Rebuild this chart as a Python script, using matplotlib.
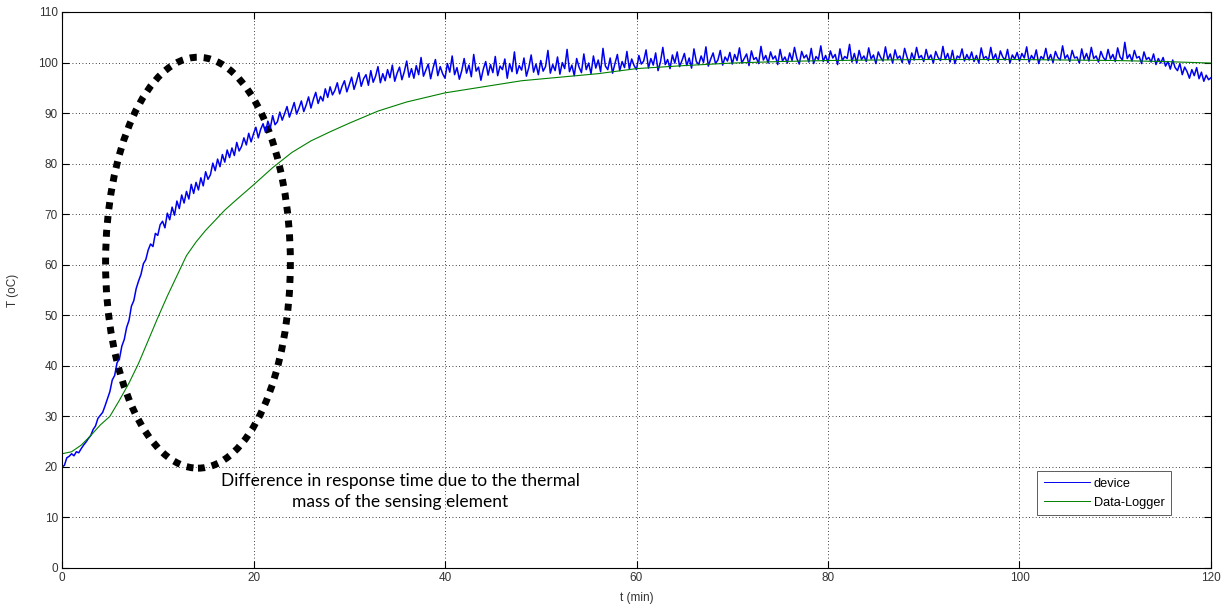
import numpy as np
import matplotlib
matplotlib.use("Agg")
import matplotlib.pyplot as plt
from matplotlib.patches import Ellipse

# device readings, one every 0.25 min
device_t = np.arange(0, 120.25, 0.25)
device_T = [
    20.0, 20.3, 21.8, 22.1, 22.6, 22.2, 23.0, 22.8, 23.6, 24.3,
    24.9, 25.6, 26.2, 27.4, 28.1, 29.6, 30.2, 30.8, 32.1, 33.5,
    34.9, 37.2, 38.1, 40.6, 41.4, 43.9, 45.2, 47.6, 49.0, 51.8,
    52.9, 55.3, 56.8, 58.1, 60.2, 61.0, 62.9, 64.1, 63.6, 66.2,
    65.8, 67.9, 68.6, 67.3, 70.2, 68.9, 71.4, 69.8, 72.6, 71.1,
    73.8, 72.2, 74.5, 73.0, 75.9, 74.1, 76.3, 74.8, 77.2, 75.6,
    78.4, 76.9, 77.8, 80.1, 78.6, 80.9, 79.4, 81.8, 80.3, 82.7,
    81.2, 83.1, 81.6, 84.2, 82.5, 83.4, 85.1, 83.7, 86.0, 84.3,
    85.9, 87.2, 85.1, 86.8, 87.9, 86.2, 88.4, 87.0, 89.5, 87.7,
    88.3, 90.2, 88.6, 89.9, 91.3, 89.2, 90.6, 92.1, 89.8, 91.0,
    92.4, 90.3, 91.6, 93.2, 91.0, 92.7, 94.1, 91.9, 93.3, 92.4,
    94.8, 93.1, 95.2, 93.6, 94.5, 96.0, 93.8, 95.3, 96.4, 94.2,
    95.6, 97.1, 94.7, 96.2, 98.0, 95.3, 96.8, 97.6, 95.5, 98.4,
    96.1, 97.3, 99.2, 96.0, 97.8, 96.4, 98.6, 97.0, 99.5, 96.3,
    97.9, 99.1, 96.6, 98.2, 100.3, 97.1, 98.8, 96.9, 99.4, 97.6,
    101.0, 97.3, 98.5, 99.7, 96.8, 98.9, 100.6, 97.4, 99.2, 97.8,
    96.9, 99.8, 98.1, 101.3, 97.6, 99.0, 96.7, 98.4, 100.8, 97.9,
    99.5, 97.2, 101.6, 98.3, 99.1, 96.5, 98.7, 100.2, 97.5, 99.6,
    98.0, 101.2, 97.4, 99.3, 98.6, 100.7, 96.9, 99.8, 98.2, 102.1,
    97.8, 99.4, 98.5, 100.9, 97.3, 99.0, 101.5, 98.1, 99.7, 97.6,
    100.4, 98.3, 99.2, 102.4, 97.9, 99.6, 98.4, 101.1, 97.7, 100.0,
    98.8, 102.6, 98.2, 99.5, 97.4, 100.8, 99.1, 98.0, 101.7, 98.6,
    99.9, 97.8, 101.3, 98.9, 100.5, 98.2, 102.8, 99.3, 98.6, 100.9,
    97.9, 99.8, 101.6, 98.4, 100.2, 99.0, 102.2, 98.7, 100.7, 99.4,
    98.6, 101.4, 99.7, 100.3, 102.5, 98.9, 100.8, 99.5, 101.9, 98.4,
    100.1, 103.0, 99.6, 100.6, 98.8, 101.5, 99.9, 102.1, 99.2, 100.4,
    101.8, 99.4, 100.9, 98.9, 102.7, 100.2, 99.6, 101.3, 100.0, 103.1,
    99.3, 100.7, 101.9, 99.8, 100.5, 102.4, 99.5, 101.1, 100.3, 102.0,
    99.7, 101.6, 100.4, 102.9, 99.9, 100.8, 101.7, 99.4, 102.3, 100.6,
    101.0, 99.8, 103.2, 100.5, 101.4, 99.9, 102.1, 100.7, 101.3, 99.6,
    102.6, 100.3, 101.1, 99.9, 101.9, 100.4, 103.0, 100.8, 99.7, 102.2,
    100.9, 101.5, 100.1, 102.8, 99.8, 101.2, 100.6, 103.3, 100.2, 101.4,
    100.0, 102.3, 100.9, 101.6, 99.6, 102.7, 100.4, 101.2, 100.8, 103.6,
    100.1, 101.8, 99.9, 102.4, 100.6, 101.3, 100.2, 102.9, 100.7, 101.5,
    99.8, 102.1, 101.0, 100.3, 103.1, 100.6, 101.7, 99.9, 102.5, 100.8,
    101.3, 100.0, 102.8, 101.1, 99.7, 101.9, 100.5, 103.0, 100.9, 101.4,
    100.2, 102.6, 100.7, 101.5, 99.9, 102.2, 101.0, 100.4, 103.2, 100.6,
    101.8, 100.1, 102.4, 99.8, 101.3, 100.9, 102.7, 100.3, 101.6, 100.5,
    102.1, 100.2, 101.4, 99.9, 102.9, 100.8, 101.2, 100.4, 103.0, 100.6,
    101.7, 100.0, 102.3, 101.1, 100.5, 102.6, 99.9, 101.5, 100.7, 102.0,
    100.3, 101.8, 100.9, 103.1, 100.1, 101.4, 100.6, 102.5, 99.8, 101.2,
    100.7, 102.8, 100.4, 101.6, 100.0, 102.2, 101.0, 100.5, 103.3, 100.8,
    101.5, 100.2, 102.4, 100.9, 101.1, 99.9, 102.7, 100.6, 101.8, 100.3,
    103.0, 100.8, 101.3, 100.1, 102.2, 101.0, 100.4, 102.6, 100.7, 101.6,
    100.2, 102.9, 101.1, 100.5, 104.0, 100.8, 101.6, 100.3, 102.4, 100.9,
    101.2, 99.8, 102.1, 100.6, 101.0, 100.1, 101.7, 99.6, 100.8, 99.9,
    101.0, 99.3, 100.2, 98.7, 100.5, 99.0, 98.4, 99.8, 97.6, 99.1,
    98.2, 96.9, 98.6, 97.4, 99.0, 96.8, 98.1, 96.3, 97.5, 96.6,
    97.0,
]

# data-logger readings
logger_t = [0, 1, 2, 3, 4, 5, 6, 7, 8, 9, 10, 11, 12, 13, 14, 15, 16, 17, 18,
            20, 22, 24, 26, 28, 30, 33, 36, 40, 44, 48, 52, 56, 60, 65, 70,
            75, 80, 90, 100, 105, 110, 115, 120]
logger_T = [22.6, 23.0, 24.3, 26.2, 28.3, 30.0, 33.2, 36.6, 40.5, 45.0, 49.5,
            53.8, 57.8, 61.8, 64.5, 66.8, 68.8, 70.8, 72.5, 75.8, 79.2, 82.2,
            84.5, 86.3, 88.0, 90.4, 92.2, 94.0, 95.2, 96.4, 97.1, 97.8, 98.8,
            99.4, 99.9, 100.2, 100.4, 100.6, 100.6, 100.5, 100.4, 100.2, 99.9]

ellipse_center = (14.2, 60.4)
ellipse_size = (19.3, 81.3)
note = "Difference in response time due to the thermal\nmass of the sensing element"

plt.rcParams["font.family"] = "Liberation Sans"

fig = plt.figure(figsize=(12.25, 6.09), dpi=100)
ax = fig.add_axes([62 / 1225, 41 / 609, 1149 / 1225, 556 / 609])

ax.plot(device_t, device_T, color="#0000f0", lw=1.1, label="device")
ax.plot(logger_t, logger_T, color="#008000", lw=0.8, label="Data-Logger")

ell = Ellipse(ellipse_center, ellipse_size[0], ellipse_size[1], fill=False,
              edgecolor="black", lw=5, linestyle=(0, (1, 1)))
ax.add_patch(ell)

ax.text(35.3, 15.1, note, ha="center", va="center", fontsize=12.5,
        family="Lato", linespacing=1.42)

ax.set_xlim(0, 120)
ax.set_ylim(0, 110)
ax.set_xticks(range(0, 121, 20))
ax.set_yticks(range(0, 111, 10))
ax.grid(True, color="black", linestyle=(0, (1, 3)), linewidth=0.6)
ax.tick_params(direction="in", top=True, right=True, length=5,
               labelsize=8.5, labelcolor="#333333", pad=3)
for s in ax.spines.values():
    s.set_linewidth(0.8)
ax.set_xlabel("t (min)", fontsize=8.5, color="#333333", labelpad=6)
ax.set_ylabel("T (oC)", fontsize=8.5, color="#333333", labelpad=14)

leg = ax.legend(loc="lower right", bbox_to_anchor=(0.965, 0.095),
                fontsize=9.2, frameon=True, fancybox=False, handlelength=3.6,
                borderpad=0.5, labelspacing=0.55, handletextpad=0.3,
                borderaxespad=0)
leg.get_frame().set_edgecolor("#333333")
leg.get_frame().set_linewidth(0.7)
for line in leg.get_lines():
    line.set_linewidth(0.7)

fig.savefig("out.png", dpi=100)
